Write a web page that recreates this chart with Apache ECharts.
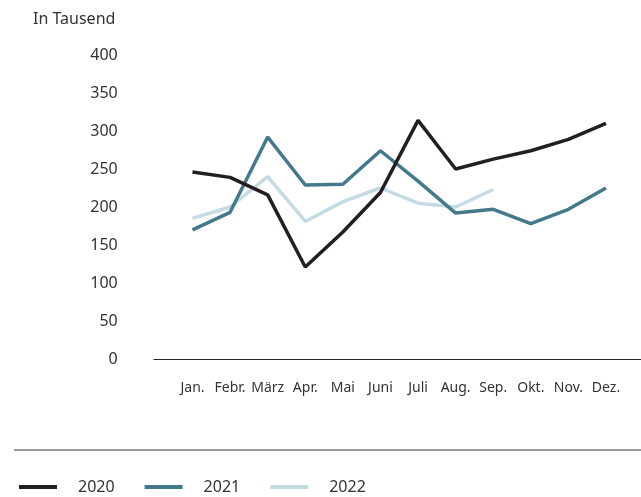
<!DOCTYPE html>
<html>
<head>
<meta charset="utf-8">
<script src="https://cdn.jsdelivr.net/npm/echarts@6/dist/echarts.min.js"></script>
<style>
  html, body { margin: 0; padding: 0; background: #fff; }
  #chart { width: 641px; height: 497px; }
</style>
</head>
<body>
<div id="chart"></div>
<script>
  // Monate und Werte (in Tausend)
  var months = ['Jan.', 'Febr.', 'März', 'Apr.', 'Mai', 'Juni', 'Juli', 'Aug.', 'Sep.', 'Okt.', 'Nov.', 'Dez.']
  var values2020 = [246, 239, 216, 121, 167, 219, 314, 250, 263, 274, 289, 310]
  var values2021 = [170, 193, 292, 229, 230, 274, 234, 192, 197, 178, 197, 225]
  var values2022 = [185, 200, 240, 181, 207, 225, 205, 200, 223]
  var yTicks = [0, 50, 100, 150, 200, 250, 300, 350, 400]

  var font = '"Noto Sans", sans-serif'
  var chart = echarts.init(document.getElementById('chart'))

  chart.setOption({
    animation: false,
    textStyle: { fontFamily: font },
    title: {
      text: 'In Tausend',
      left: 28,
      top: 6,
      textStyle: { fontSize: 16, fontWeight: 'normal', color: '#333', fontFamily: font }
    },
    legend: {
      left: 14,
      top: 474,
      icon: 'rect',
      itemWidth: 38,
      itemHeight: 4,
      itemGap: 30,
      textStyle: { fontSize: 16, color: '#333', padding: [0, 0, 8, 16], fontFamily: font },
      data: ['2020', '2021', '2022']
    },
    grid: [
      { left: 173.7, right: 16.2, top: 55, bottom: 138 },   // Datenbereich
      { left: 154, right: 0, top: 55, bottom: 138 }         // durchgehende Grundlinie
    ],
    xAxis: [
      {
        type: 'category',
        gridIndex: 0,
        data: months,
        boundaryGap: true,
        axisLine: { show: false },
        axisTick: { show: false },
        axisLabel: { color: '#333', fontSize: 14, margin: 22, interval: 0 }
      },
      {
        type: 'value',
        gridIndex: 1,
        min: 0,
        max: 1,
        axisLine: { show: true, lineStyle: { color: '#222', width: 1 } },
        axisTick: { show: false },
        axisLabel: { show: false },
        splitLine: { show: false }
      }
    ],
    yAxis: [
      {
        type: 'value',
        gridIndex: 0,
        min: yTicks[0],
        max: yTicks[yTicks.length - 1],
        interval: 50,
        axisLine: { show: false },
        axisTick: { show: false },
        splitLine: { show: false },
        axisLabel: { color: '#333', fontSize: 16, margin: 56 }
      },
      {
        type: 'value',
        gridIndex: 1,
        min: 0,
        max: 400,
        show: false
      }
    ],
    series: [
      {
        name: '2020',
        type: 'line',
        xAxisIndex: 0,
        yAxisIndex: 0,
        data: values2020,
        symbol: 'none',
        z: 3,
        itemStyle: { color: '#231f20' },
        lineStyle: { color: '#231f20', width: 3.5 }
      },
      {
        name: '2021',
        type: 'line',
        xAxisIndex: 0,
        yAxisIndex: 0,
        data: values2021,
        symbol: 'none',
        z: 2,
        itemStyle: { color: '#44798d' },
        lineStyle: { color: '#44798d', width: 3.5 }
      },
      {
        name: '2022',
        type: 'line',
        xAxisIndex: 0,
        yAxisIndex: 0,
        data: values2022,
        symbol: 'none',
        z: 1,
        itemStyle: { color: '#c5dae3' },
        lineStyle: { color: '#c5dae3', width: 3.5 }
      }
    ],
    graphic: [
      {
        type: 'line',
        shape: { x1: 14, y1: 450, x2: 641, y2: 450 },
        style: { stroke: '#777', lineWidth: 1.5 }
      }
    ]
  })
</script>
</body>
</html>
